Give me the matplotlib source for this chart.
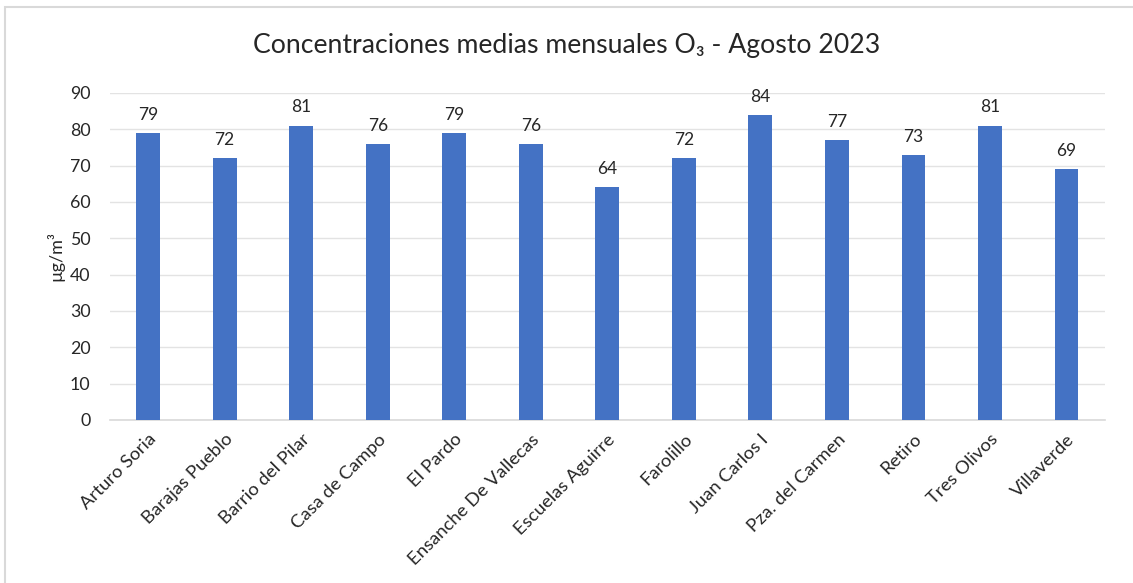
import matplotlib.pyplot as plt
from matplotlib.patches import Rectangle
import numpy as np

estaciones = ['Arturo Soria', 'Barajas Pueblo', 'Barrio del Pilar', 'Casa de Campo',
              'El Pardo', 'Ensanche De Vallecas', 'Escuelas Aguirre', 'Farolillo',
              'Juan Carlos I', 'Pza. del Carmen', 'Retiro', 'Tres Olivos', 'Villaverde']
o3 = [79, 72, 81, 76, 79, 76, 64, 72, 84, 77, 73, 81, 69]
yticks = [0, 10, 20, 30, 40, 50, 60, 70, 80, 90]

plt.rcParams['font.family'] = ['Lato', 'DejaVu Sans']

fig = plt.figure(figsize=(11.33, 5.83), dpi=100)
ax = fig.add_axes([0.097, 0.2796, 0.878, 0.561])

# marco gris alrededor del grafico
fig.patches.append(Rectangle((0.004, -0.02), 1.1, 1 - 0.012 + 0.02, transform=fig.transFigure,
                             fill=False, edgecolor='#D9D9D9', linewidth=1.5))

x = np.arange(len(estaciones))
bars = ax.bar(x, o3, width=0.31, color='#4472C4', zorder=3)
for b, v in zip(bars, o3):
    ax.text(b.get_x() + b.get_width() / 2, v + 2.8, str(v), ha='center', va='bottom',
            fontsize=12.5, color='#262626')

ax.set_ylim(0, 90)
ax.set_xlim(-0.5, len(estaciones) - 0.5)
ax.set_yticks(yticks)
ax.yaxis.grid(True, color='#E3E3E3', linewidth=1.0, zorder=0)
ax.set_xticks(x)
ax.set_xticklabels(estaciones, rotation=45, ha='right', rotation_mode='anchor', fontsize=13.3)
ax.tick_params(axis='both', length=0, colors='#262626')
ax.tick_params(axis='y', pad=14, labelsize=12.8)
ax.tick_params(axis='x', pad=8)
for s in ['top', 'right', 'left']:
    ax.spines[s].set_visible(False)
ax.spines['bottom'].set_color('#D9D9D9')
ax.spines['bottom'].set_linewidth(1.2)

ax.set_ylabel('µg/m³', fontsize=13, color='#262626', labelpad=4)
fig.text(0.5, 0.922, 'Concentraciones medias mensuales O₃ - Agosto 2023', ha='center', va='center',
         fontsize=19.2, color='#262626')

fig.savefig('out.png', dpi=100)
